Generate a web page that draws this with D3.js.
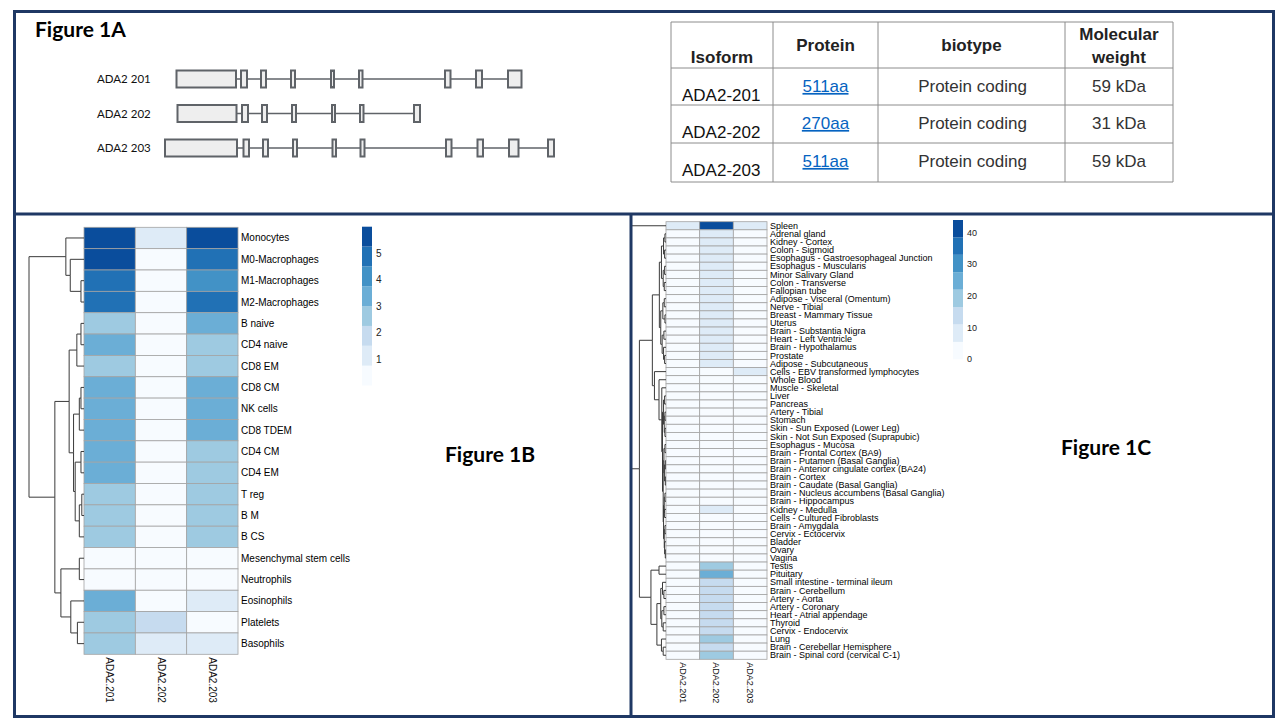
<!DOCTYPE html>
<html>
<head>
<meta charset="utf-8">
<script src="https://cdn.jsdelivr.net/npm/d3@7"></script>
<style>
  body { margin: 0; background: #fff; }
  text { font-family: "Liberation Sans", Arial, sans-serif; }
  .cal { font-family: Lato, "Liberation Sans", sans-serif; }
</style>
</head>
<body>
<div id="fig"></div>
<script>
const W = 1280, H = 720;

// ---- Figure 1A: transcript structures (positions in relative units along the gene)
const isoforms = ["ADA2 201", "ADA2 202", "ADA2 203"];
const exons201 = [[11.5, 71], [76, 82], [96, 101], [126, 130], [166, 169], [194, 197.5], [280, 285.5], [311, 317], [343, 356.5]];
const exons202 = [[12.5, 71.5], [77, 83], [97, 102], [127, 131], [167, 170], [195, 198.5], [249, 255]];
const exons203 = [[0, 72], [78.5, 84], [98, 103], [128, 132], [167.5, 171], [195.5, 199.5], [281, 286.5], [312.5, 318], [344, 353.5], [383, 389]];
const exonSets = [exons201, exons202, exons203];

// ---- Figure 1A table
const tableHead = ["Isoform", "Protein", "biotype", "Molecular|weight"];
const tIsoform = ["ADA2-201", "ADA2-202", "ADA2-203"];
const tProtein = ["511aa", "270aa", "511aa"];
const tBiotype = ["Protein coding", "Protein coding", "Protein coding"];
const tWeight = ["59 kDa", "31 kDa", "59 kDa"];

// ---- Figure 1B: immune cell expression per isoform
const cols = ["ADA2.201", "ADA2.202", "ADA2.203"];
const cells1B = ["Monocytes", "M0-Macrophages", "M1-Macrophages", "M2-Macrophages", "B naive", "CD4 naive",
  "CD8 EM", "CD8 CM", "NK cells", "CD8 TDEM", "CD4 CM", "CD4 EM", "T reg", "B M", "B CS",
  "Mesenchymal stem cells", "Neutrophils", "Eosinophils", "Platelets", "Basophils"];
const b201 = [5.6, 5.5, 4.8, 4.7, 2.6, 3.3, 2.7, 3.4, 3.3, 3.4, 3.3, 3.4, 2.8, 2.8, 2.8, 0.2, 0.3, 3.5, 2.6, 2.7];
const b202 = [1.0, 0.3, 0.2, 0.2, 0.2, 0.2, 0.2, 0.2, 0.2, 0.2, 0.2, 0.2, 0.2, 0.2, 0.2, 0.1, 0.1, 0.3, 1.8, 1.0];
const b203 = [5.6, 4.8, 4.1, 4.8, 3.3, 2.6, 2.7, 3.3, 3.4, 3.5, 2.7, 2.7, 2.8, 2.8, 2.9, 0.1, 0.2, 1.0, 0.3, 1.0];
const ticks1B = [1, 2, 3, 4, 5];
// row clustering: [height, left, right], leaves are row indices
const tree1B = [10,
  [3.3, 0, [2.5, 1, [0.55, 2, 3]]],
  [5.3,
    [2.7,
      [1.3, [0.55, 4, 5], 6],
      [1.9,
        [0.85, [0.55, 7, 8], 9],
        [1.6, [0.55, 10, 11], [0.85, [0.4, 12, 13], 14]]]],
    [4.2,
      [0.85, 15, 16],
      [2.4, 17, [1.2, 18, 19]]]]];

// ---- Figure 1C: tissue expression per isoform
const tissues = ["Spleen", "Adrenal gland", "Kidney - Cortex", "Colon - Sigmoid", "Esophagus - Gastroesophageal Junction",
  "Esophagus - Muscularis", "Minor Salivary Gland", "Colon - Transverse", "Fallopian tube", "Adipose - Visceral (Omentum)",
  "Nerve - Tibial", "Breast - Mammary Tissue", "Uterus", "Brain - Substantia Nigra", "Heart - Left Ventricle",
  "Brain - Hypothalamus", "Prostate", "Adipose - Subcutaneous", "Cells - EBV transformed lymphocytes", "Whole Blood",
  "Muscle - Skeletal", "Liver", "Pancreas", "Artery - Tibial", "Stomach", "Skin - Sun Exposed (Lower Leg)",
  "Skin - Not Sun Exposed (Suprapubic)", "Esophagus - Mucosa", "Brain - Frontal Cortex (BA9)", "Brain - Putamen (Basal Ganglia)",
  "Brain - Anterior cingulate cortex (BA24)", "Brain - Cortex", "Brain - Caudate (Basal Ganglia)",
  "Brain - Nucleus accumbens (Basal Ganglia)", "Brain - Hippocampus", "Kidney - Medulla", "Cells - Cultured Fibroblasts",
  "Brain - Amygdala", "Cervix - Ectocervix", "Bladder", "Ovary", "Vagina", "Testis", "Pituitary",
  "Small intestine - terminal ileum", "Brain - Cerebellum", "Artery - Aorta", "Artery - Coronary",
  "Heart - Atrial appendage", "Thyroid", "Cervix - Endocervix", "Lung", "Brain - Cerebellar Hemisphere",
  "Brain - Spinal cord (cervical C-1)"];
const c201 = [7, 2, 2, 1.5, 1.5, 1.5, 2, 1.5, 1.5, 2, 1.5, 2, 1.5, 1, 1, 1, 1.5, 2,
  3, 1, 1, 0.5, 0.5, 1.5, 1, 1.5, 1.5, 1, 1, 1, 1, 1, 1, 1, 1, 1.5, 1, 1, 1.5, 1.5, 1.5, 1.5,
  1, 1.5, 2, 1, 1.5, 1.5, 1, 1.5, 1.5, 2, 1, 1.5];
const c202 = [42, 8, 8, 7.5, 8, 8, 7.5, 8, 7.5, 8, 8, 8, 7.5, 7.5, 7.5, 7.5, 8, 8,
  2, 1, 1.5, 1, 1, 2, 2, 2.5, 2.5, 2.5, 2, 2, 2, 2, 2, 2, 2, 7, 2.5, 2, 3, 3, 3, 3,
  18, 24, 13, 13, 13, 13, 13, 13, 13, 18, 13, 17];
const c203 = [7, 1.5, 1.5, 1, 1, 1, 1.5, 1, 1, 1.5, 1, 1.5, 1, 0.5, 0.5, 0.5, 1, 1.5,
  7, 1, 0.5, 0.5, 0.5, 1, 1, 1, 1, 1, 0.5, 0.5, 0.5, 0.5, 0.5, 0.5, 0.5, 1, 1, 0.5, 1, 1, 1, 1,
  1, 1, 1.5, 0.5, 1, 1, 1, 1, 1, 1.5, 0.5, 1];
const ticks1C = [0, 10, 20, 30, 40];
const tree1C = [10, 0,
  [7.6,
    [3.9,
      [1.9,
        [1.3, [0.7, [0.3, 1, 2], [0.4, 3, 4]], [0.8, [0.4, 5, 6], [0.5, 7, 8]]],
        [1.5, [0.9, [0.5, 9, 10], [0.3, 11, 12]], [1.1, [0.6, 13, 14], [0.7, 15, [0.4, 16, 17]]]]],
      [3.3, 18, [2.0, 19, [1.2, 20,
        [1.0,
          [0.7, [0.4, 21, 22], [0.5, [0.3, 23, 24], [0.3, 25, 26]]],
          [0.8,
            [0.6, [0.3, 27, 28], [0.4, [0.2, 29, 30], [0.2, 31, 32]]],
            [0.7, [0.5, [0.3, 33, 34], [0.4, 35, 36]], [0.5, [0.3, 37, 38], [0.4, 39, [0.2, 40, 41]]]]]]]]]],
    [4.3,
      [2.0, 42, 43],
      [2.6,
        [1.5, [1.0, 44, [0.6, 45, 46]], [1.2, [0.6, 47, 48], [0.8, 49, 50]]],
        [1.3, 51, [0.8, 52, 53]]]]]];

const blues = ["#f7fbff", "#deebf7", "#c6dbef", "#9ecae1", "#6baed6", "#4292c6", "#2171b5", "#0a4d9c"];
const navy = "#1f3864";

const svg = d3.select("#fig").append("svg").attr("width", W).attr("height", H);
svg.append("rect").attr("width", W).attr("height", H).attr("fill", "#fff");

// ================= Figure 1A =================
svg.append("text").attr("class", "cal").attr("x", 35).attr("y", 37)
  .attr("font-size", 21).attr("font-weight", "bold").text("Figure 1A");

const gx = d3.scaleLinear().domain([0, 390]).range([165, 555]);
const gy = d3.scalePoint().domain(isoforms).range([79, 148]);

isoforms.forEach((iso, i) => {
  const ex = exonSets[i];
  const cy = gy(iso);
  const g = svg.append("g");
  g.append("text").attr("class", "cal").attr("x", 97).attr("y", cy).attr("dy", "0.35em")
    .attr("font-size", 11.5).attr("fill", "#111").text(iso);
  g.append("line").attr("x1", gx(ex[0][1])).attr("x2", gx(ex[ex.length - 1][0]))
    .attr("y1", cy).attr("y2", cy).attr("stroke", "#5f6368").attr("stroke-width", 1.5);
  g.selectAll("rect").data(ex).join("rect")
    .attr("x", d => gx(d[0])).attr("width", d => gx(d[1]) - gx(d[0]))
    .attr("y", cy - 8.5).attr("height", 17)
    .attr("fill", "#eeeeee").attr("stroke", "#5f6368").attr("stroke-width", 2);
});

// table
const colEdges = [671, 773, 878, 1065, 1173];
const rowEdges = [22, 68, 105, 143, 182];
const tb = svg.append("g").attr("class", "cal");
tb.selectAll("line.v").data(colEdges).join("line")
  .attr("x1", d => d).attr("x2", d => d).attr("y1", rowEdges[0]).attr("y2", rowEdges[rowEdges.length - 1])
  .attr("stroke", "#8c8c8c").attr("stroke-width", 1);
tb.selectAll("line.h").data(rowEdges).join("line")
  .attr("y1", d => d).attr("y2", d => d).attr("x1", colEdges[0]).attr("x2", colEdges[colEdges.length - 1])
  .attr("stroke", "#8c8c8c").attr("stroke-width", 1);
const colMid = i => (colEdges[i] + colEdges[i + 1]) / 2;
// header
const headY = [[57], [45], [45], [34, 57]];
tableHead.forEach((h, i) => {
  h.split("|").forEach((part, k) => {
    tb.append("text").attr("x", colMid(i)).attr("y", headY[i][k]).attr("dy", "0.35em")
      .attr("text-anchor", "middle").attr("font-size", 17).attr("font-weight", "bold")
      .attr("fill", "#222").text(part);
  });
});
tIsoform.forEach((iso, r) => {
  const top = rowEdges[r + 1];
  tb.append("text").attr("x", 682).attr("y", top + 27).attr("dy", "0.35em")
    .attr("font-size", 17).attr("fill", "#111").text(iso);
  tb.append("text").attr("x", colMid(1)).attr("y", top + 18).attr("dy", "0.35em")
    .attr("text-anchor", "middle").attr("font-size", 17).attr("fill", "#0563c1")
    .attr("text-decoration", "underline").text(tProtein[r]);
  tb.append("text").attr("x", colMid(2) + 1).attr("y", top + 18).attr("dy", "0.35em")
    .attr("text-anchor", "middle").attr("font-size", 17).attr("fill", "#333").text(tBiotype[r]);
  tb.append("text").attr("x", colMid(3)).attr("y", top + 18).attr("dy", "0.35em")
    .attr("text-anchor", "middle").attr("font-size", 17).attr("fill", "#333").text(tWeight[r]);
});

// ================= heatmap helper =================
function heatmap(opt) {
  const g = svg.append("g");
  const x = d3.scaleBand().domain(cols).range([opt.x0, opt.x1]);
  const y = d3.scaleBand().domain(opt.rows).range([opt.y0, opt.y1]);
  const color = d3.scaleQuantize().domain(opt.domain).range(blues);
  const cellsData = [];
  opt.rows.forEach((r, i) => opt.series.forEach((s, j) => cellsData.push({ r, c: cols[j], v: s[i] })));
  g.selectAll("rect.cell").data(cellsData).join("rect").attr("class", "cell")
    .attr("x", d => x(d.c)).attr("y", d => y(d.r))
    .attr("width", x.bandwidth()).attr("height", y.bandwidth())
    .attr("fill", d => color(d.v)).attr("stroke", "#a3a3a3").attr("stroke-width", 0.8);

  // row labels
  g.selectAll("text.row").data(opt.rows).join("text").attr("class", "row")
    .attr("x", opt.x1 + 3).attr("y", d => y(d) + y.bandwidth() / 2).attr("dy", "0.35em")
    .attr("font-size", opt.fs).attr("fill", "#000").text(d => d);

  // column labels
  g.selectAll("text.col").data(cols).join("text").attr("class", "col")
    .attr("transform", d => `translate(${x(d) + x.bandwidth() / 2},${opt.y1 + opt.colGap}) rotate(90)`)
    .attr("dy", "0.35em").attr("font-size", opt.fs).attr("fill", "#111").text(d => d);

  // row dendrogram
  const hx = d3.scaleLinear().domain([0, opt.tree[0]]).range([opt.x0, opt.rootX]);
  const root = d3.hierarchy(opt.tree, d => Array.isArray(d) ? d.slice(1) : null);
  root.eachAfter(n => {
    if (n.children) { n.h = n.data[0]; n.py = d3.mean(n.children, c => c.py); }
    else { n.h = 0; n.py = y(opt.rows[n.data]) + y.bandwidth() / 2; }
  });
  g.selectAll("path.link").data(root.links()).join("path").attr("class", "link")
    .attr("d", l => `M${hx(l.source.h)},${l.source.py}V${l.target.py}H${hx(l.target.h)}`)
    .attr("fill", "none").attr("stroke", "#3a3a3a").attr("stroke-width", 1);

  // legend
  const ly = d3.scaleLinear().domain(opt.domain).range([opt.legY1, opt.legY0]);
  const edges = [opt.domain[0], ...color.thresholds(), opt.domain[1]];
  const bins = d3.pairs(edges);
  g.selectAll("rect.leg").data(bins).join("rect").attr("class", "leg")
    .attr("x", opt.legX).attr("width", 10)
    .attr("y", d => ly(d[1])).attr("height", d => ly(d[0]) - ly(d[1]))
    .attr("fill", d => color((d[0] + d[1]) / 2));
  g.selectAll("text.tick").data(opt.ticks).join("text").attr("class", "tick")
    .attr("x", opt.legX + 14).attr("y", d => ly(d)).attr("dy", "0.35em")
    .attr("font-size", opt.legFs).attr("fill", "#222").text(d => d);
}

// ================= Figure 1B =================
heatmap({
  rows: cells1B, series: [b201, b202, b203], domain: [0, 6],
  x0: 84, x1: 238, y0: 227.3, y1: 654.3, rootX: 29, tree: tree1B,
  fs: 10, colGap: 3, legX: 362, legY0: 226.7, legY1: 385.5, ticks: ticks1B, legFs: 10
});
svg.append("text").attr("class", "cal").attr("x", 445).attr("y", 462)
  .attr("font-size", 21).attr("font-weight", "bold").text("Figure 1B");

// ================= Figure 1C =================
heatmap({
  rows: tissues, series: [c201, c202, c203], domain: [0, 44],
  x0: 666, x1: 767, y0: 221.7, y1: 659.3, rootX: 631, tree: tree1C,
  fs: 9, colGap: 3, legX: 953, legY0: 220, legY1: 359.3, ticks: ticks1C, legFs: 9
});
svg.append("text").attr("class", "cal").attr("x", 1061).attr("y", 455)
  .attr("font-size", 21).attr("font-weight", "bold").text("Figure 1C");

// ================= frame =================
const frame = svg.append("g").attr("fill", "none").attr("stroke", navy).attr("stroke-width", 3);
frame.append("rect").attr("x", 14.5).attr("y", 11.5).attr("width", 1259).attr("height", 705);
frame.append("line").attr("x1", 14).attr("x2", 1274).attr("y1", 214).attr("y2", 214);
frame.append("line").attr("x1", 631).attr("x2", 631).attr("y1", 214).attr("y2", 717);
</script>
</body>
</html>
